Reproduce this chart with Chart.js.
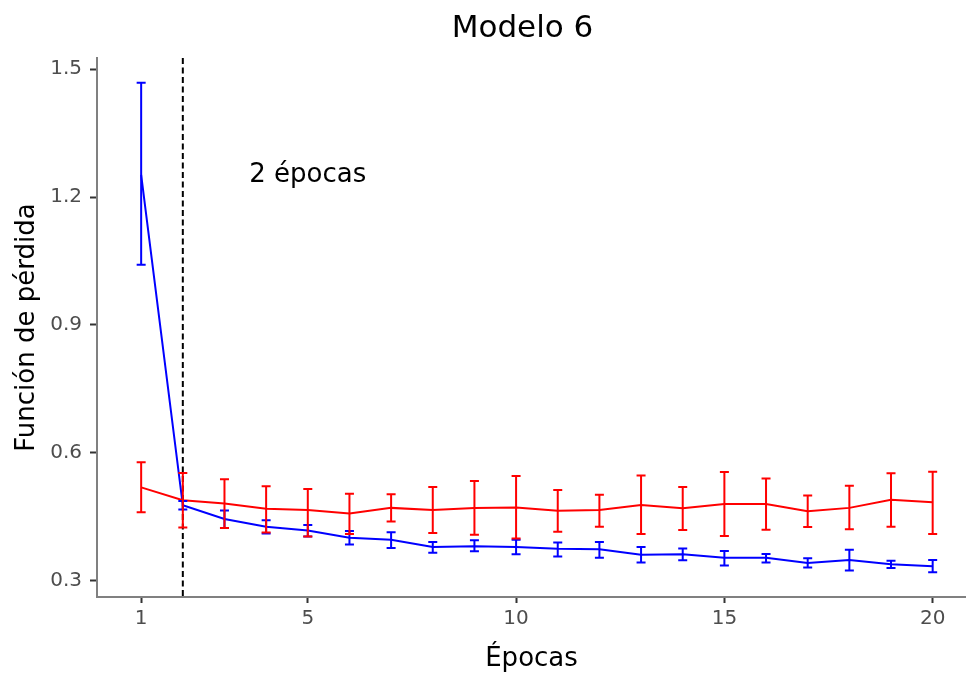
<!DOCTYPE html>
<html>
<head>
<meta charset="utf-8">
<script src="https://cdn.jsdelivr.net/npm/chart.js@4/dist/chart.umd.min.js"></script>
<style>
  html, body { margin: 0; padding: 0; background: #fff; }
  #wrap { width: 966px; height: 675px; position: relative; }
</style>
</head>
<body>
<div id="wrap"><canvas id="lossChart"></canvas></div>
<script>
// datos
const epocas = [1, 2, 3, 4, 5, 6, 7, 8, 9, 10, 11, 12, 13, 14, 15, 16, 17, 18, 19, 20];

const validMedia = [0.519, 0.489, 0.481, 0.469, 0.466, 0.458, 0.471, 0.466, 0.471, 0.472, 0.464, 0.466, 0.478, 0.470, 0.480, 0.480, 0.463, 0.471, 0.490, 0.484];
const validMin   = [0.461, 0.425, 0.424, 0.413, 0.404, 0.410, 0.439, 0.412, 0.408, 0.399, 0.415, 0.427, 0.410, 0.419, 0.405, 0.420, 0.426, 0.421, 0.427, 0.410];
const validMax   = [0.578, 0.553, 0.538, 0.522, 0.515, 0.504, 0.503, 0.520, 0.534, 0.546, 0.513, 0.502, 0.547, 0.520, 0.555, 0.540, 0.500, 0.523, 0.552, 0.556];

const entrenMedia = [1.252, 0.477, 0.445, 0.427, 0.418, 0.401, 0.396, 0.379, 0.381, 0.379, 0.375, 0.374, 0.361, 0.362, 0.354, 0.354, 0.342, 0.349, 0.339, 0.334];
const entrenMin   = [1.041, 0.467, 0.424, 0.411, 0.404, 0.385, 0.377, 0.366, 0.369, 0.362, 0.357, 0.354, 0.343, 0.348, 0.336, 0.343, 0.331, 0.324, 0.330, 0.320];
const entrenMax   = [1.468, 0.487, 0.465, 0.442, 0.431, 0.417, 0.414, 0.391, 0.395, 0.396, 0.390, 0.391, 0.379, 0.376, 0.370, 0.363, 0.353, 0.373, 0.347, 0.349];

const xTicks = [1, 5, 10, 15, 20];
const yTicks = [0.3, 0.6, 0.9, 1.2, 1.5];
const corteEpoca = 2;
const etiqueta = '2 épocas';

Chart.defaults.font.family = "'DejaVu Sans', sans-serif";

const puntos = (ys) => epocas.map((e, i) => ({ x: e, y: ys[i] }));

// barras de error con las escalas del grafico
const errorBars = {
    id: 'errorBars',
    afterDatasetsDraw(chart) {
        const { ctx, scales: { x, y } } = chart;
        const series = [
            { lo: entrenMin, hi: entrenMax, color: '#0000ff' },
            { lo: validMin, hi: validMax, color: '#ff0000' }
        ];
        ctx.save();
        ctx.lineWidth = 2;
        series.forEach(s => {
            ctx.strokeStyle = s.color;
            epocas.forEach((e, i) => {
                const px = x.getPixelForValue(e);
                const y1 = y.getPixelForValue(s.lo[i]);
                const y2 = y.getPixelForValue(s.hi[i]);
                ctx.beginPath();
                ctx.moveTo(px, y1); ctx.lineTo(px, y2);
                ctx.moveTo(px - 4.5, y1); ctx.lineTo(px + 4.5, y1);
                ctx.moveTo(px - 4.5, y2); ctx.lineTo(px + 4.5, y2);
                ctx.stroke();
            });
        });
        ctx.restore();
    }
};

// linea vertical discontinua y texto
const corte = {
    id: 'corte',
    afterLayout(chart) {
        // centrar el titulo un poco a la izquierda, como en el original
        if (chart.titleBlock) chart.titleBlock.right -= 18;
    },
    beforeDatasetsDraw(chart) {
        const { ctx, chartArea, scales: { x, y } } = chart;
        const px = x.getPixelForValue(corteEpoca);
        ctx.save();
        ctx.strokeStyle = '#000';
        ctx.lineWidth = 2;
        ctx.setLineDash([6, 3.5]);
        ctx.beginPath();
        ctx.moveTo(px, chartArea.top);
        ctx.lineTo(px, chartArea.bottom);
        ctx.stroke();
        ctx.setLineDash([]);
        ctx.fillStyle = '#000';
        ctx.font = "26px 'DejaVu Sans'";
        ctx.textAlign = 'center';
        ctx.textBaseline = 'middle';
        ctx.fillText(etiqueta, x.getPixelForValue(5), y.getPixelForValue(1.25));
        ctx.restore();
    }
};

new Chart(document.getElementById('lossChart').getContext('2d'), {
    type: 'line',
    data: {
        datasets: [
            {
                label: 'Validación',
                data: puntos(validMedia),
                borderColor: '#ff0000',
                borderWidth: 2,
                pointRadius: 0,
                tension: 0
            },
            {
                label: 'Entrenamiento',
                data: puntos(entrenMedia),
                borderColor: '#0000ff',
                borderWidth: 2,
                pointRadius: 0,
                tension: 0
            }
        ]
    },
    options: {
        responsive: true,
        maintainAspectRatio: false,
        animation: false,
        layout: { padding: 0 },
        plugins: {
            legend: { display: false },
            tooltip: { enabled: false },
            title: {
                display: true,
                text: 'Modelo 6',
                fullSize: false,
                color: '#000',
                font: { size: 31, weight: 'normal' },
                padding: { top: 10, bottom: 10.8 }
            }
        },
        scales: {
            x: {
                type: 'linear',
                min: -0.06,
                max: 20.8,
                afterBuildTicks: s => { s.ticks = xTicks.map(v => ({ value: v })); },
                afterFit: s => { s.height = 78; },
                grid: { drawOnChartArea: false, drawTicks: true, tickLength: 6, tickColor: '#333', tickWidth: 2 },
                border: { display: true, color: '#808080', width: 2 },
                ticks: { color: '#4d4d4d', font: { size: 20 }, padding: 4, maxRotation: 0 },
                title: { display: true, text: 'Épocas', color: '#000', font: { size: 26 }, padding: { top: 0, bottom: 0.4 } }
            },
            y: {
                min: 0.262,
                max: 1.526,
                afterBuildTicks: s => { s.ticks = yTicks.map(v => ({ value: v })); },
                afterFit: s => { s.width = 97; },
                grid: { drawOnChartArea: false, drawTicks: true, tickLength: 7, tickColor: '#333', tickWidth: 2 },
                border: { display: true, color: '#808080', width: 2 },
                ticks: { color: '#4d4d4d', font: { size: 20 }, padding: 8, callback: v => v.toFixed(1) },
                title: { display: true, text: 'Función de pérdida', color: '#000', font: { size: 26 }, padding: { top: 11.4, bottom: 0 } }
            }
        }
    },
    plugins: [corte, errorBars]
});
</script>
</body>
</html>
